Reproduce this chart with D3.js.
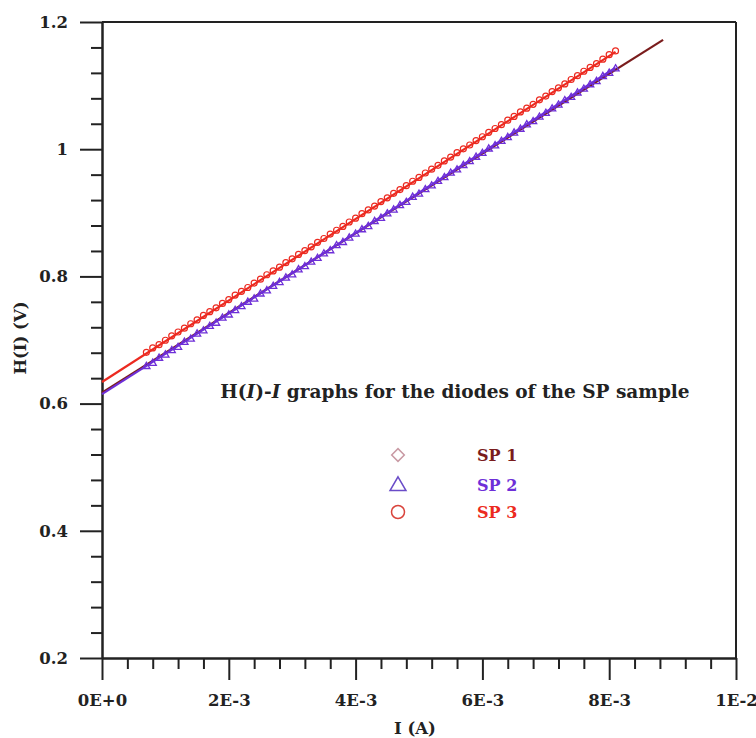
<!DOCTYPE html>
<html>
<head>
<meta charset="utf-8">
<script src="https://cdn.jsdelivr.net/npm/d3@7"></script>
<style>
  body { margin: 0; background: #fff; }
  text { font-family: "DejaVu Serif", serif; font-weight: bold; }
</style>
</head>
<body>
<script>
// H(I)-I chart, SP sample

const width = 756;
const height = 738;
const margin = {top: 22, left: 102, bottom: 80, right: 20};

// current values (mA) for the measured points
const current = [0.7, 0.8, 0.9, 1.0, 1.1, 1.2, 1.3, 1.4, 1.5, 1.6, 1.7, 1.8, 1.9, 2.0,
    2.1, 2.2, 2.3, 2.4, 2.5, 2.6, 2.7, 2.8, 2.9, 3.0, 3.1, 3.2, 3.3, 3.4, 3.5, 3.6,
    3.7, 3.8, 3.9, 4.0, 4.1, 4.2, 4.3, 4.4, 4.5, 4.6, 4.7, 4.8, 4.9, 5.0, 5.1, 5.2,
    5.3, 5.4, 5.5, 5.6, 5.7, 5.8, 5.9, 6.0, 6.1, 6.2, 6.3, 6.4, 6.5, 6.6, 6.7, 6.8,
    6.9, 7.0, 7.1, 7.2, 7.3, 7.4, 7.5, 7.6, 7.7, 7.8, 7.9, 8.0, 8.1];

const sp2 = [0.660, 0.665, 0.673, 0.678, 0.685, 0.690, 0.698, 0.703, 0.711, 0.716, 0.723, 0.728,
    0.736, 0.741, 0.748, 0.754, 0.761, 0.766, 0.774, 0.779, 0.786, 0.792, 0.799, 0.804,
    0.812, 0.817, 0.824, 0.830, 0.837, 0.842, 0.850, 0.855, 0.862, 0.868, 0.875, 0.880,
    0.888, 0.893, 0.900, 0.906, 0.913, 0.918, 0.926, 0.931, 0.938, 0.944, 0.951, 0.957,
    0.964, 0.969, 0.976, 0.982, 0.989, 0.995, 1.002, 1.007, 1.014, 1.020, 1.027, 1.033,
    1.040, 1.045, 1.052, 1.058, 1.065, 1.071, 1.078, 1.083, 1.090, 1.096, 1.103, 1.108,
    1.116, 1.121, 1.128];

const sp3 = [0.679, 0.686, 0.691, 0.698, 0.705, 0.711, 0.717, 0.724, 0.730, 0.737, 0.743, 0.749,
    0.756, 0.762, 0.769, 0.775, 0.781, 0.788, 0.794, 0.801, 0.807, 0.813, 0.820, 0.826,
    0.833, 0.839, 0.845, 0.852, 0.858, 0.865, 0.871, 0.877, 0.884, 0.890, 0.897, 0.903,
    0.909, 0.916, 0.922, 0.929, 0.935, 0.941, 0.948, 0.954, 0.961, 0.967, 0.973, 0.980,
    0.986, 0.993, 0.999, 1.005, 1.012, 1.018, 1.025, 1.031, 1.037, 1.044, 1.050, 1.057,
    1.063, 1.069, 1.076, 1.082, 1.089, 1.095, 1.101, 1.108, 1.114, 1.121, 1.127, 1.133,
    1.140, 1.147, 1.153];

// linear fits: end points (I in A, H in V)
const fitSP1 = {I: [0, 0.00885], H: [0.617, 1.172]};
const fitSP2 = {I: [0, 0.0081], H: [0.615, 1.128]};
const fitSP3 = {I: [0, 0.0081], H: [0.634, 1.153]};

const xTicks = [0, 0.002, 0.004, 0.006, 0.008, 0.01];
const xTickLabels = ['0E+0', '2E-3', '4E-3', '6E-3', '8E-3', '1E-2'];
const yTicks = [0.2, 0.4, 0.6, 0.8, 1.0, 1.2];
const yTickLabels = ['0.2', '0.4', '0.6', '0.8', '1', '1.2'];

const legendNames = ['SP 1', 'SP 2', 'SP 3'];
const legendColors = ['#7a1c1c', '#6e2fd8', '#ec2a20'];

const x = d3.scaleLinear().domain([0, 0.01]).range([margin.left, width - margin.right]);
const y = d3.scaleLinear().domain([0.2, 1.2]).range([height - margin.bottom, margin.top]);

const svg = d3.select('body').append('svg').attr('width', width).attr('height', height);

// frame top and right
svg.append('line')
    .attr('x1', x(0)).attr('x2', x(0.01)).attr('y1', y(1.2)).attr('y2', y(1.2))
    .attr('stroke', '#222').attr('stroke-width', 2);
svg.append('line')
    .attr('x1', x(0.01)).attr('x2', x(0.01)).attr('y1', y(1.2)).attr('y2', y(0.2))
    .attr('stroke', '#222').attr('stroke-width', 2);

// minor ticks, 4 between majors
const xMinor = d3.range(0, 26).map(i => i * 0.0004).filter((d, i) => i % 5 !== 0);
const yMinor = d3.range(0, 26).map(i => 0.2 + i * 0.04).filter((d, i) => i % 5 !== 0);

const styleAxis = g => {
    g.select('.domain').attr('stroke', '#222').attr('stroke-width', 2);
    g.selectAll('.tick line').attr('stroke', '#222').attr('stroke-width', 2);
};

svg.append('g')
    .attr('transform', `translate(0,${y(0.2)})`)
    .call(d3.axisBottom(x).tickValues(xMinor).tickSize(11).tickSizeOuter(0).tickFormat(''))
    .call(styleAxis);
svg.append('g')
    .attr('transform', `translate(0,${y(0.2)})`)
    .call(d3.axisBottom(x).tickValues(xTicks).tickSize(22).tickSizeOuter(0)
        .tickFormat((d, i) => xTickLabels[i]).tickPadding(14))
    .call(styleAxis)
    .call(g => g.selectAll('.tick text').attr('font-size', 16.5).attr('fill', '#222')
        .attr('font-family', 'DejaVu Serif'));

svg.append('g')
    .attr('transform', `translate(${x(0)},0)`)
    .call(d3.axisLeft(y).tickValues(yMinor).tickSize(11).tickSizeOuter(0).tickFormat(''))
    .call(styleAxis);
svg.append('g')
    .attr('transform', `translate(${x(0)},0)`)
    .call(d3.axisLeft(y).tickValues(yTicks).tickSize(22).tickSizeOuter(0)
        .tickFormat((d, i) => yTickLabels[i]).tickPadding(12))
    .call(styleAxis)
    .call(g => g.selectAll('.tick text').attr('font-size', 16.5).attr('fill', '#222')
        .attr('font-family', 'DejaVu Serif'));

// axis titles
svg.append('text')
    .attr('x', 415).attr('y', 734)
    .attr('text-anchor', 'middle').attr('font-size', 16.5).attr('fill', '#222')
    .text('I (A)');
svg.append('text')
    .attr('transform', 'translate(26,338) rotate(-90)')
    .attr('text-anchor', 'middle').attr('font-size', 16.5).attr('fill', '#222')
    .text('H(I) (V)');

// fit lines
const fitLine = d3.line().x(d => x(d[0])).y(d => y(d[1]));
const fitPts = f => f.I.map((d, i) => [d, f.H[i]]);

svg.append('path').datum(fitPts(fitSP1))
    .attr('d', fitLine).attr('fill', 'none').attr('stroke', legendColors[0]).attr('stroke-width', 2.2);
svg.append('path').datum(fitPts(fitSP2))
    .attr('d', fitLine).attr('fill', 'none').attr('stroke', legendColors[1]).attr('stroke-width', 2.2);

const tri = d3.symbol().type(d3.symbolTriangle).size(22);
svg.append('g')
    .selectAll('path').data(current).join('path')
    .attr('transform', (d, i) => `translate(${x(d / 1000)},${y(sp2[i]) + 1})`)
    .attr('d', tri)
    .attr('fill', 'none').attr('stroke', legendColors[1]).attr('stroke-width', 1.3);

svg.append('path').datum(fitPts(fitSP3))
    .attr('d', fitLine).attr('fill', 'none').attr('stroke', legendColors[2]).attr('stroke-width', 2.2);

svg.append('g')
    .selectAll('circle').data(current).join('circle')
    .attr('cx', d => x(d / 1000))
    .attr('cy', (d, i) => y(sp3[i]) - 1)
    .attr('r', 3)
    .attr('fill', 'none').attr('stroke', legendColors[2]).attr('stroke-width', 1.2);

// title inside plot
const title = svg.append('text')
    .attr('x', 455).attr('y', 398)
    .attr('text-anchor', 'middle').attr('font-size', 18.5).attr('fill', '#222');
title.append('tspan').text('H(');
title.append('tspan').attr('font-style', 'italic').text('I');
title.append('tspan').text(')-');
title.append('tspan').attr('font-style', 'italic').text('I');
title.append('tspan').text(' graphs for the diodes of the SP sample');

// legend
const legendY = [455, 485, 512];
const legend = svg.append('g');
legend.append('path')
    .attr('transform', `translate(398,${legendY[0]}) rotate(45)`)
    .attr('d', d3.symbol().type(d3.symbolSquare).size(80))
    .attr('fill', 'none').attr('stroke', '#c99aa4').attr('stroke-width', 1.5);
legend.append('path')
    .attr('transform', `translate(398,${legendY[1] + 1})`)
    .attr('d', d3.symbol().type(d3.symbolTriangle).size(110))
    .attr('fill', 'none').attr('stroke', '#6a4cc8').attr('stroke-width', 1.5);
legend.append('circle')
    .attr('cx', 398).attr('cy', legendY[2]).attr('r', 6.5)
    .attr('fill', 'none').attr('stroke', '#d9443c').attr('stroke-width', 1.5);
legend.selectAll('text').data(legendNames).join('text')
    .attr('x', 477).attr('y', (d, i) => legendY[i] + 6)
    .attr('font-size', 16).attr('fill', (d, i) => legendColors[i])
    .text(d => d);
</script>
</body>
</html>
